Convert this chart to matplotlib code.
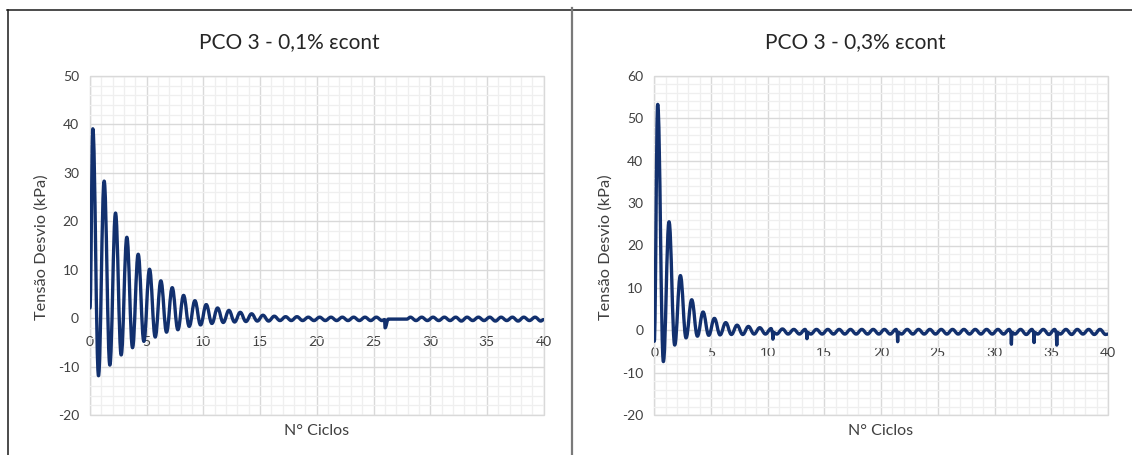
import numpy as np
import matplotlib
matplotlib.use("Agg")
import matplotlib.pyplot as plt
from matplotlib.lines import Line2D
from matplotlib.patches import Rectangle, PathPatch
from matplotlib.path import Path

plt.rcParams['font.family'] = ['Lato', 'DejaVu Sans']
plt.rcParams['axes.unicode_minus'] = False

# ---------------------------------------------------------------- data
cycles = np.arange(40)

# PCO 3 - 0,1 % : value at the start, then per-cycle peak / trough (kPa)
start_01 = 2.1
peaks_01 = [39.1, 28.3, 21.7, 16.7, 13.2, 10.1, 7.7, 6.3, 4.7, 3.6,
            2.8, 2.1, 1.6, 1.2, 0.9, 0.6, 0.4, 0.3, 0.3, 0.2,
            0.2, 0.2, 0.2, 0.2, 0.2, 0.2, np.nan, np.nan, 0.2, 0.2,
            0.2, 0.2, 0.2, 0.2, 0.2, 0.2, 0.2, 0.2, 0.2, 0.2]
troughs_01 = [-11.9, -9.7, -7.6, -6.1, -4.8, -3.9, -2.9, -2.4, -1.7, -1.4,
              -1.1, -0.9, -0.8, -0.7, -0.6, -0.6, -0.5, -0.5, -0.5, -0.5,
              -0.5, -0.5, -0.5, -0.5, -0.5, -0.5, np.nan, np.nan, -0.5, -0.5,
              -0.5, -0.5, -0.6, -0.5, -0.5, -0.6, -0.5, -0.6, -0.5, -0.6]
extra_x_01 = [25.98, 26.02, 26.3, 27.95]
extra_y_01 = [-0.3, -2.0, -0.2, -0.2]
end_01 = -0.3

# PCO 3 - 0,3 %
start_03 = -2.6
peaks_03 = [53.3, 25.6, 12.9, 7.2, 4.3, 2.8, 1.8, 1.2, 0.9, 0.6,
            0.4, 0.3, 0.2, 0.2, 0.2, 0.2, 0.2, 0.2, 0.2, 0.2,
            0.2, 0.2, 0.2, 0.2, 0.2, 0.2, 0.2, 0.2, 0.2, 0.2,
            0.2, 0.2, 0.2, 0.2, 0.2, 0.2, 0.2, 0.2, 0.2, 0.2]
troughs_03 = [-7.4, -3.5, -1.8, -1.4, -1.2, -1.1, -1.0, -1.0, -0.9, -0.9,
              -0.9, -0.9, -0.9, -0.9, -0.9, -0.9, -0.9, -0.9, -0.9, -0.9,
              -0.9, -0.9, -0.9, -0.9, -0.9, -0.9, -0.9, -0.9, -0.9, -0.9,
              -0.9, -0.9, -1.0, -0.9, -1.0, -0.9, -1.0, -0.9, -1.0, -1.0]
spike_x_03 = [10.42, 10.46, 10.5, 13.42, 13.46, 13.5, 21.42, 21.46, 21.5,
              31.45, 31.49, 31.53, 33.45, 33.49, 33.53, 35.45, 35.49, 35.53]
spike_y_03 = [-0.4, -2.1, -0.5, -0.4, -2.0, -0.5, -0.4, -2.7, -0.5,
              -0.4, -3.3, -0.5, -0.4, -2.9, -0.5, -0.4, -3.5, -0.5]
end_03 = -0.9

xticks = [0, 5, 10, 15, 20, 25, 30, 35, 40]
titles = ['PCO 3 - 0,1% \u03b5cont', 'PCO 3 - 0,3% \u03b5cont']
ylabel = 'Tens\u00e3o Desvio (kPa)'
xlabel = 'N\u00b0 Ciclos'

LINE = '#12306e'
MAJOR = '#d9d9d9'
MINOR = '#efefef'
TEXT = '#404040'


def build_trace(start, peaks, troughs, phase_p, phase_t, ex_x, ex_y, end):
    xs = [0.0]
    ys = [start]
    xs += list(cycles + phase_p) + list(cycles + phase_t) + list(ex_x) + [40.0]
    ys += list(peaks) + list(troughs) + list(ex_y) + [end]
    xs = np.array(xs, dtype=float)
    ys = np.array(ys, dtype=float)
    keep = ~np.isnan(ys)
    xs, ys = xs[keep], ys[keep]
    order = np.argsort(xs, kind='stable')
    return xs[order], ys[order]


def smooth_line(ax, xs, ys, k=0.4, **kw):
    """Smoothed line through the points (flat tangents at each point)."""
    verts = [(xs[0], ys[0])]
    codes = [Path.MOVETO]
    for i in range(len(xs) - 1):
        dx = xs[i + 1] - xs[i]
        verts += [(xs[i] + k * dx, ys[i]), (xs[i + 1] - k * dx, ys[i + 1]),
                  (xs[i + 1], ys[i + 1])]
        codes += [Path.CURVE4] * 3
    patch = PathPatch(Path(verts, codes), fill=False, transform=ax.transData,
                      **kw)
    ax.add_patch(patch)


def style_axes(ax, ymin, ymax, label_pad):
    ax.set_xlim(0, 40)
    ax.set_ylim(ymin, ymax)
    ax.set_xticks(xticks)
    ax.set_xticks(np.arange(0, 41, 1), minor=True)
    ax.set_yticks(np.arange(ymin, ymax + 1, 10))
    ax.set_yticks(np.arange(ymin, ymax + 1, 2), minor=True)
    ax.grid(which='minor', color=MINOR, linewidth=0.9, zorder=0)
    ax.grid(which='major', color=MAJOR, linewidth=1.0, zorder=0)
    ax.set_axisbelow(True)
    for side in ('top', 'right', 'left'):
        ax.spines[side].set_visible(False)
    ax.spines['bottom'].set_position(('data', 0))
    ax.spines['bottom'].set_visible(False)
    ax.tick_params(which='both', length=0)
    ax.tick_params(axis='x', pad=label_pad, labelsize=10, labelcolor=TEXT)
    ax.tick_params(axis='y', pad=8, labelsize=10, labelcolor=TEXT)
    ax.add_patch(Rectangle((0, 0), 1, 1, transform=ax.transAxes, fill=False,
                           edgecolor=MAJOR, linewidth=1.0, clip_on=False,
                           zorder=0.5))


W, H = 1132, 455
fig = plt.figure(figsize=(W / 100, H / 100), dpi=100)
fig.patch.set_facecolor('white')

ax1 = fig.add_axes([90 / W, 1 - 415 / H, (543.6 - 90) / W, (415 - 76) / H])
ax2 = fig.add_axes([654.3 / W, 1 - 415 / H, (1107.9 - 654.3) / W, (415 - 76) / H])

style_axes(ax1, -20, 50, 13)
style_axes(ax2, -20, 60, 12)

x1, y1 = build_trace(start_01, peaks_01, troughs_01, 0.25, 0.75,
                     extra_x_01, extra_y_01, end_01)
x2, y2 = build_trace(start_03, peaks_03, troughs_03, 0.30, 0.80,
                     spike_x_03, spike_y_03, end_03)
line_kw = dict(edgecolor=LINE, linewidth=2.4, joinstyle='round',
               capstyle='round', zorder=3)
smooth_line(ax1, x1, y1, **line_kw)
smooth_line(ax2, x2, y2, **line_kw)

# titles and axis titles
fig.text(289 / W, 1 - 42 / H, titles[0], ha='center', va='center',
         fontsize=15, color='#262626')
fig.text(855 / W, 1 - 42 / H, titles[1], ha='center', va='center',
         fontsize=15, color='#262626')
fig.text(42 / W, 1 - 247 / H, ylabel, rotation=90, ha='center',
         va='center', fontsize=11.8, color=TEXT)
fig.text(606 / W, 1 - 247 / H, ylabel, rotation=90, ha='center',
         va='center', fontsize=11.8, color=TEXT)
fig.text(317 / W, 1 - 431 / H, xlabel, ha='center', va='center',
         fontsize=11.5, color=TEXT)
fig.text(881 / W, 1 - 431 / H, xlabel, ha='center', va='center',
         fontsize=11.5, color=TEXT)

# page frame around the two charts
fig.add_artist(Line2D([7 / W, 1], [1 - 10.3 / H, 1 - 10.3 / H],
                      transform=fig.transFigure, color='#1a1a1a', linewidth=1.1))
fig.add_artist(Line2D([7.5 / W, 7.5 / W], [0, 1 - 10.3 / H],
                      transform=fig.transFigure, color='#1a1a1a', linewidth=1.1))
fig.add_artist(Line2D([571.8 / W, 571.8 / W], [0, 1 - 8 / H],
                      transform=fig.transFigure, color='#7a7a7a', linewidth=1.6))

fig.savefig('out.png', dpi=100, facecolor='white')
